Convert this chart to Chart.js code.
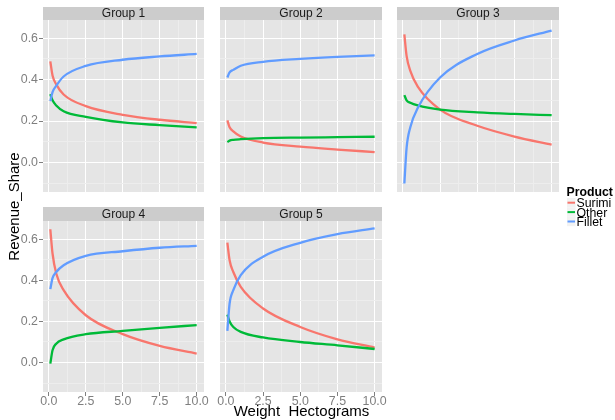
<!DOCTYPE html>
<html>
<head>
<meta charset="utf-8">
<script src="https://cdn.jsdelivr.net/npm/chart.js@4"></script>
<style>
  body { margin: 0; background: #fff; }
  #wrap { position: relative; width: 615px; height: 420px; }
  #wrap canvas { position: absolute; left: 0; top: 0; }
</style>
</head>
<body>
<div id="wrap"></div>
<script>
// data (Revenue_Share by Weight in hectograms)
const groups = ["Group 1", "Group 2", "Group 3", "Group 4", "Group 5"];
const products = ["Surimi", "Other", "Fillet"];
const weights = [0.1, 0.25, 0.5, 1, 2.5, 5, 7.5, 10];

const surimi = [
  [0.488, 0.42, 0.377, 0.328, 0.272, 0.23, 0.206, 0.19],
  [0.203, 0.17, 0.15, 0.125, 0.096, 0.076, 0.062, 0.05],
  [0.618, 0.515, 0.442, 0.366, 0.255, 0.177, 0.125, 0.086],
  [0.648, 0.53, 0.433, 0.352, 0.23, 0.138, 0.081, 0.044],
  [0.583, 0.497, 0.44, 0.368, 0.263, 0.173, 0.113, 0.073],
];
const other = [
  [0.33, 0.3, 0.275, 0.247, 0.22, 0.193, 0.18, 0.169],
  [0.098, 0.105, 0.109, 0.112, 0.117, 0.12, 0.122, 0.124],
  [0.325, 0.3, 0.288, 0.275, 0.255, 0.242, 0.234, 0.228],
  [-0.005, 0.06, 0.092, 0.113, 0.138, 0.154, 0.169, 0.182],
  [0.233, 0.2, 0.173, 0.149, 0.122, 0.1, 0.084, 0.066],
];
const fillet = [
  [0.296, 0.34, 0.37, 0.415, 0.466, 0.496, 0.512, 0.524],
  [0.41, 0.435, 0.447, 0.467, 0.486, 0.5, 0.51, 0.517],
  [-0.102, 0.07, 0.17, 0.263, 0.41, 0.524, 0.589, 0.637],
  [0.357, 0.41, 0.44, 0.473, 0.519, 0.541, 0.558, 0.567],
  [0.154, 0.287, 0.352, 0.425, 0.514, 0.582, 0.624, 0.652],
];
const shares = [surimi, other, fillet];

const xMajor = [0, 2.5, 5, 7.5, 10];
const xMinor = [1.25, 3.75, 6.25, 8.75];
const yMajor = [0, 0.2, 0.4, 0.6];
const yMinor = [-0.1, 0.1, 0.3, 0.5];

const colors = ["#F8766D", "#00BA38", "#619CFF"];
const FONT = '"Liberation Sans", Arial, sans-serif';
const W = 615, H = 420;
const Y_AXIS_W = 40, X_AXIS_H = 16;

// panel boxes (plot areas) and which axes get labels
const boxes = [
  { l: 43, t: 20, r: 204, b: 192, st: 7, showX: false, showY: true },
  { l: 220, t: 20, r: 382, b: 192, st: 7, showX: false, showY: false },
  { l: 397, t: 20, r: 559, b: 192, st: 7, showX: false, showY: false },
  { l: 43, t: 221, r: 204, b: 392, st: 207, showX: true, showY: true },
  { l: 220, t: 221, r: 382, b: 392, st: 207, showX: true, showY: false },
];

const isMajor = (list, v) => list.some((m) => Math.abs(m - v) < 1e-6);
const sorted = (a, b) => [...a, ...b].sort((p, q) => p - q);

const panelBg = {
  id: "panelBg",
  beforeDraw(chart) {
    const a = chart.chartArea, c = chart.ctx;
    c.save();
    c.fillStyle = "#E5E5E5";
    c.fillRect(a.left, a.top, a.right - a.left, a.bottom - a.top);
    c.restore();
  },
};

const strip = {
  id: "strip",
  afterDraw(chart, args, opts) {
    const a = chart.chartArea, c = chart.ctx;
    c.save();
    c.fillStyle = "#CCCCCC";
    c.fillRect(a.left, opts.top, a.right - a.left, a.top - opts.top);
    c.fillStyle = "#1a1a1a";
    c.font = "12px " + FONT;
    c.textAlign = "center";
    c.textBaseline = "middle";
    c.fillText(opts.text, (a.left + a.right) / 2, (opts.top + a.top) / 2 + 0.5);
    c.restore();
  },
};

const annotations = {
  id: "annotations",
  afterDraw(chart) {
    const c = chart.ctx;
    c.save();
    c.fillStyle = "#000";
    c.font = "15px " + FONT;
    c.textAlign = "center";
    c.textBaseline = "alphabetic";
    c.fillText("Weight  Hectograms", 301.5, 415.5);
    c.save();
    c.translate(19, 206.5);
    c.rotate(-Math.PI / 2);
    c.fillText("Revenue_Share", 0, 0);
    c.restore();
    // legend
    c.textAlign = "left";
    c.font = "bold 12.3px " + FONT;
    c.fillText("Product", 566.5, 196);
    c.font = "12.3px " + FONT;
    products.forEach((p, k) => {
      const y = 202.7 + k * 9.4;
      c.fillStyle = "#F2F2F2";
      c.fillRect(567, y - 4.7, 8.5, 9.4);
      c.strokeStyle = colors[k];
      c.lineWidth = 2;
      c.beginPath();
      c.moveTo(567.5, y);
      c.lineTo(575, y);
      c.stroke();
      c.fillStyle = "#000";
      c.fillText(p, 576.5, y + 4.4);
    });
    c.restore();
  },
};

Chart.defaults.font.family = FONT;
const wrap = document.getElementById("wrap");

groups.forEach((g, gi) => {
  const b = boxes[gi];
  const yw = b.showY ? Y_AXIS_W : 0;
  const xh = b.showX ? X_AXIS_H : 0;
  const cv = document.createElement("canvas");
  cv.width = W;
  cv.height = H;
  wrap.appendChild(cv);
  new Chart(cv, {
    type: "line",
    data: {
      datasets: products.map((p, k) => ({
        label: p,
        data: weights.map((w, i) => ({ x: w, y: shares[k][gi][i] })),
        borderColor: colors[k],
        borderWidth: 2.3,
        pointRadius: 0,
        cubicInterpolationMode: "monotone",
        fill: false,
        order: products.length - k,
      })),
    },
    options: {
      responsive: false,
      animation: false,
      devicePixelRatio: 1,
      layout: { padding: { left: b.l - yw, top: b.t, right: W - b.r, bottom: H - b.b - xh } },
      plugins: {
        legend: { display: false },
        tooltip: { enabled: false },
        strip: { text: g, top: b.st },
      },
      scales: {
        x: {
          type: "linear",
          min: -0.395,
          max: 10.495,
          afterBuildTicks: (s) => { s.ticks = sorted(xMajor, xMinor).map((v) => ({ value: v })); },
          afterFit: (s) => { s.height = xh; },
          border: { display: false },
          grid: {
            color: (ctx) => (isMajor(xMajor, ctx.tick.value) ? "#FFFFFF" : "#EDEDED"),
            lineWidth: 1,
            drawTicks: b.showX,
            tickLength: 4,
            tickColor: (ctx) => (isMajor(xMajor, ctx.tick.value) ? "#7F7F7F" : "rgba(0,0,0,0)"),
          },
          ticks: {
            display: b.showX,
            autoSkip: false,
            maxRotation: 0,
            padding: -1.5,
            color: "#7F7F7F",
            font: { size: 12.4 },
            callback: (v) => (isMajor(xMajor, v) ? v.toFixed(1) : ""),
          },
        },
        y: {
          type: "linear",
          min: -0.143,
          max: 0.688,
          afterBuildTicks: (s) => { s.ticks = sorted(yMajor, yMinor).map((v) => ({ value: v })); },
          afterFit: (s) => { s.width = yw; },
          border: { display: false },
          grid: {
            color: (ctx) => (isMajor(yMajor, ctx.tick.value) ? "#FFFFFF" : "#EDEDED"),
            lineWidth: 1,
            drawTicks: b.showY,
            tickLength: 4,
            tickColor: (ctx) => (isMajor(yMajor, ctx.tick.value) ? "#7F7F7F" : "rgba(0,0,0,0)"),
          },
          ticks: {
            display: b.showY,
            autoSkip: false,
            padding: 1,
            color: "#7F7F7F",
            font: { size: 12.4 },
            callback: (v) => (isMajor(yMajor, v) ? v.toFixed(1) : ""),
          },
        },
      },
    },
    plugins: gi === groups.length - 1 ? [panelBg, strip, annotations] : [panelBg, strip],
  });
});
</script>
</body>
</html>
